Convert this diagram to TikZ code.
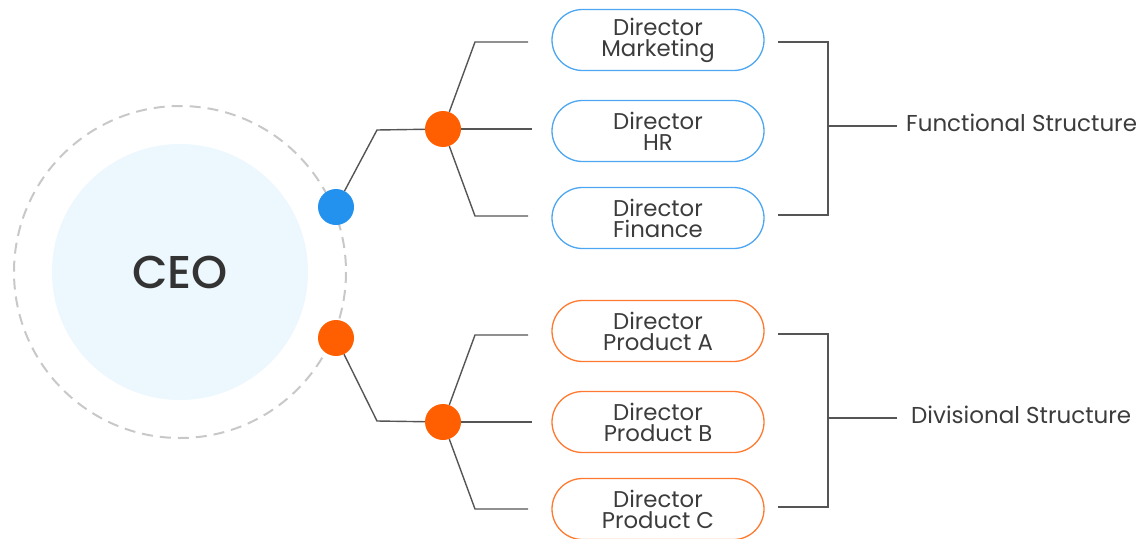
\documentclass[tikz,border=0pt]{standalone}
\usepackage{fontspec}
\setmainfont{Poppins}
\newfontfamily\ceofont{Poppins Medium}
\definecolor{ceofill}{HTML}{EDF7FE}
\definecolor{ringgray}{HTML}{C8C8C8}
\definecolor{dotblue}{HTML}{2391EE}
\definecolor{boxblue}{HTML}{4DA6F2}
\definecolor{dotorange}{HTML}{FF5F00}
\definecolor{boxorange}{HTML}{FF7A30}
\definecolor{linegray}{HTML}{555555}
\definecolor{txtgray}{HTML}{3C3C3C}
\tikzset{
  dot/.style={circle,fill=#1,inner sep=0,minimum size=36},
  dirbox/.style={draw=#1,line width=1.3,rounded corners=30.5,minimum width=212,
    minimum height=61,align=center,text=txtgray,font=\fontsize{22.8}{21}\selectfont},
  link/.style={draw=linegray,line width=1.4},
}
\begin{document}
\begin{tikzpicture}[x=1pt,y=-1pt,every node/.style={inner sep=0}]
            \useasboundingbox (0,0) rectangle (1145,538);
            \draw[ringgray,line width=2,dash pattern=on 11 off 7] (180,272) circle (166);
            \node[circle,fill=ceofill,minimum size=256,text=black!80,font=\ceofont\fontsize{46}{46}\selectfont] (ceo) at (180,272){CEO};

            \node[dot=dotblue] (fun) at (336,207){};
            \node[dot=dotorange] (div) at (336,338){};
            \node[dot=dotorange] (hubf) at (443,129){};
            \node[dot=dotorange] (hubd) at (443,422){};

            \node[dirbox=boxblue] (mkt) at (658,40){Director\\Marketing};
            \node[dirbox=boxblue] (hr) at (658,131){Director\\HR};
            \node[dirbox=boxblue] (fin) at (658,218){Director\\Finance};
            \node[dirbox=boxorange] (pa) at (658,331){Director\\Product A};
            \node[dirbox=boxorange] (pb) at (658,422){Director\\Product B};
            \node[dirbox=boxorange] (pc) at (658,509){Director\\Product C};

            \node[anchor=west,text=txtgray,font=\fontsize{23}{23}\selectfont] (funlbl) at (906,123){Functional Structure};
            \node[anchor=west,text=txtgray,font=\fontsize{23}{23}\selectfont] (divlbl) at (911,415){Divisional Structure};

            % ceo to hubs
            \draw[link] (fun) -- (377,130) -- (hubf);
            \draw[link] (div) -- (377,421) -- (hubd);

            % hubs to directors
            \draw[link] (hubf) -- (475,42) -- (528,42);
            \draw[link] (hubf) -- (532,129);
            \draw[link] (hubf) -- (475,216) -- (528,216);
            \draw[link] (hubd) -- (475,335) -- (528,335);
            \draw[link] (hubd) -- (532,422);
            \draw[link] (hubd) -- (475,509) -- (528,509);

            % brackets
            \draw[link] (778,42) -- (828,42) -- (828,215) -- (778,215);
            \draw[link] (828,126) -- (897,126);
            \draw[link] (778,334) -- (828,334) -- (828,507) -- (778,507);
            \draw[link] (828,418) -- (897,418);
        \end{tikzpicture}
\end{document}
